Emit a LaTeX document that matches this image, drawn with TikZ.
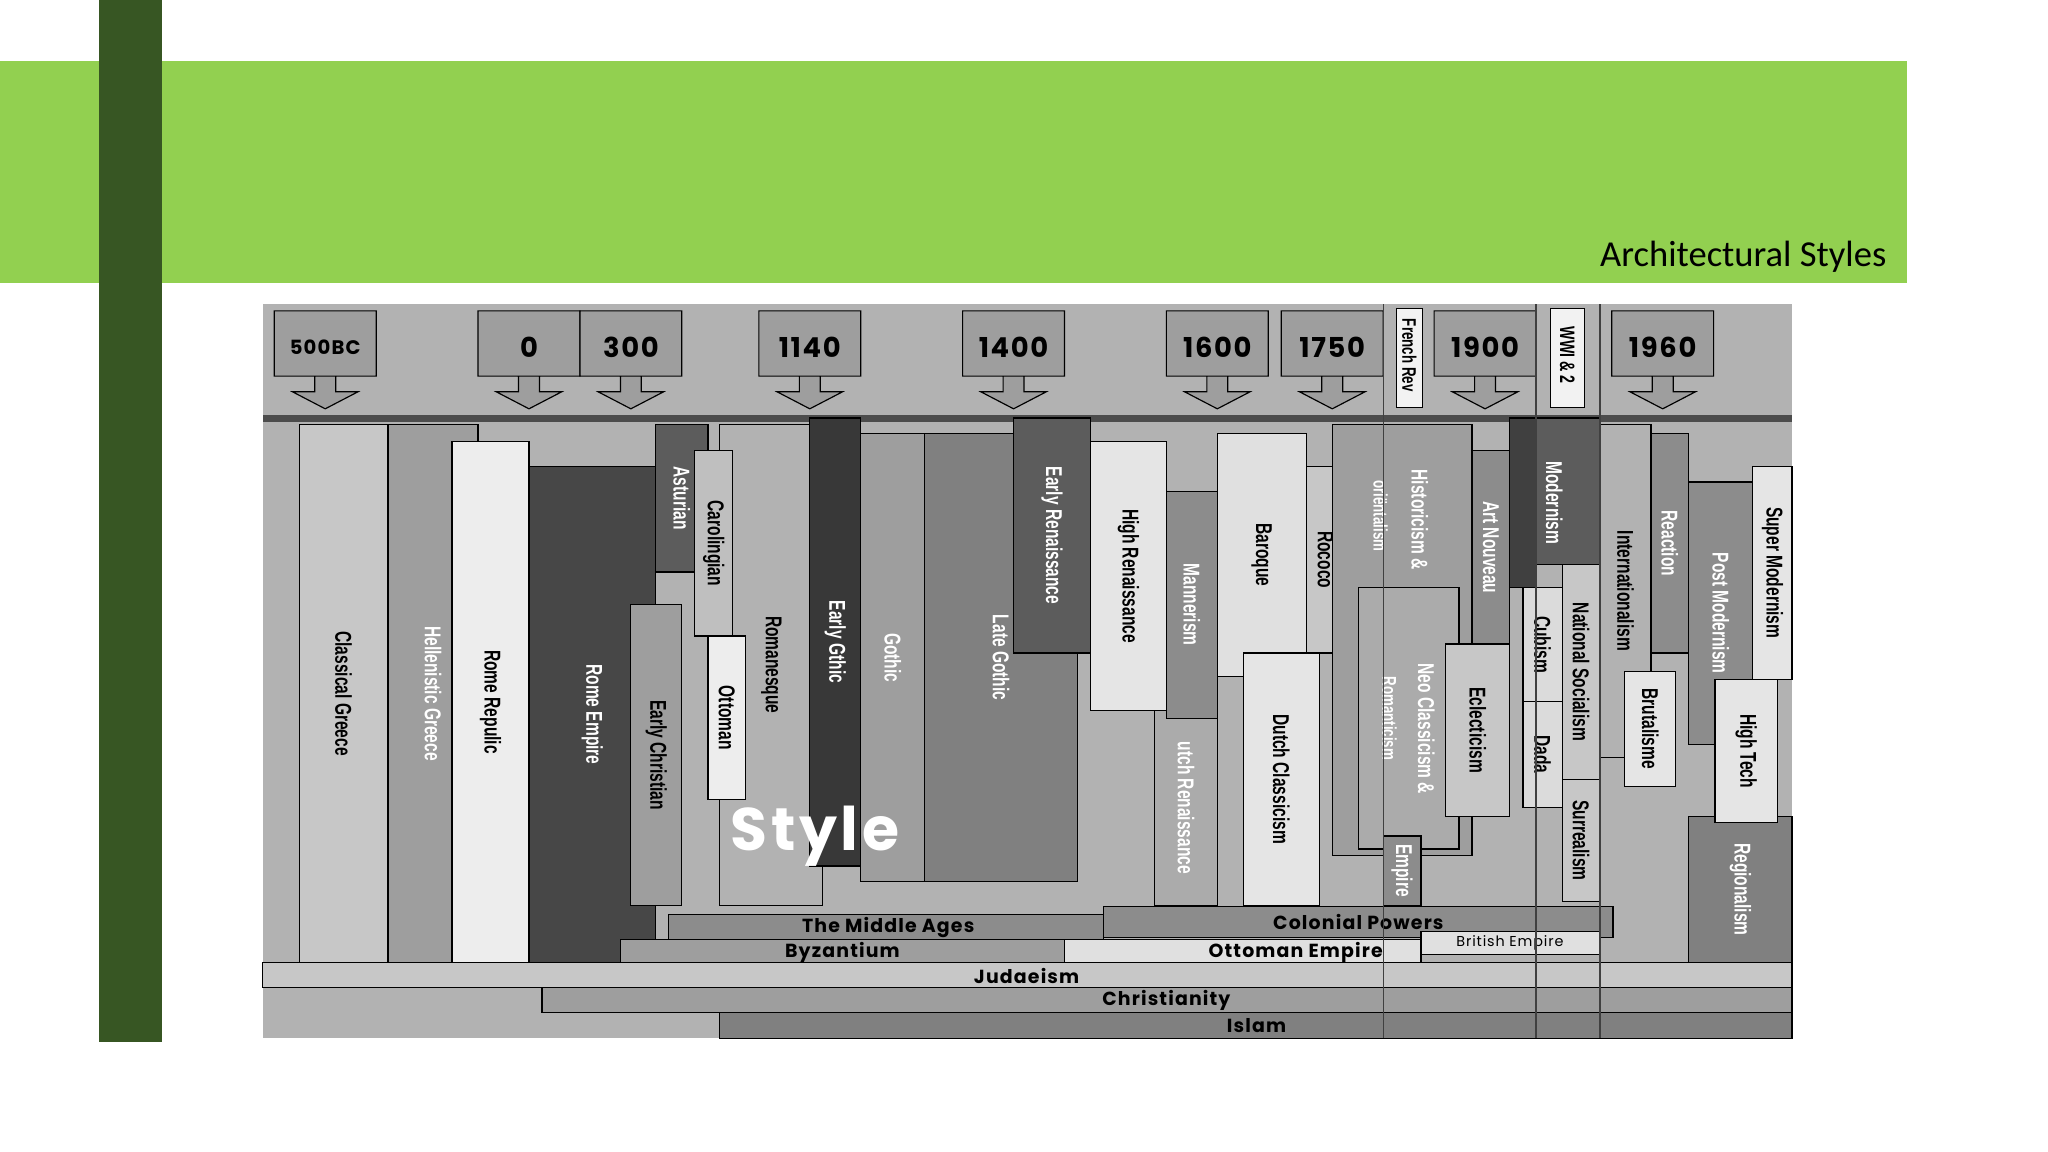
\documentclass[tikz,border=0pt]{standalone}
\usepackage{fontspec}
\setmainfont{Carlito}
\newfontfamily\cond[FakeStretch=0.68]{Liberation Sans}
\newfontfamily\geo[LetterSpace=6]{Poppins}
\definecolor{lgreen}{RGB}{146,208,80}
\definecolor{dgreen}{RGB}{55,86,35}
\begin{document}
\begin{tikzpicture}[x=1pt,y=-1pt,line width=0.9pt,
  lab/.style={rotate=-90,font=\cond\bfseries\fontsize{17.5}{17.5}\selectfont,inner sep=0pt},
  era/.style={font=\geo\bfseries\fontsize{14.5}{14.5}\selectfont,inner sep=0pt},
  date/.style={font=\geo\bfseries\fontsize{21}{21}\selectfont,inner sep=0pt}]
\useasboundingbox (0,0) rectangle (1568,882);
\fill[white] (0,0) rectangle (1568,882);
\fill[lgreen] (0,47) rectangle (1460,217);
\fill[dgreen] (76,0) rectangle (124,798);
\node[anchor=base east,font=\fontsize{28}{28}\selectfont] (title) at (1448,204) {Architectural Styles};
% chart background
\fill[black!30] (201,233) rectangle (1372,795);
\newcommand\sbar[7]{\draw[fill=black!#5] (#1,#2) rectangle (#3,#4);
  \node[lab,text=#7] at ({(#1+#3)/2},{(#2+#4)/2}) {#6};}
\newcommand\plain[5]{\draw[fill=black!#5] (#1,#2) rectangle (#3,#4);}
\newcommand\datebox[3]{\draw[fill=black!38] (#1,238) rectangle (#2,288)
  ({(#1+#2)/2-8},288) -- ({(#1+#2)/2-8},300) -- ({(#1+#2)/2-25},300) -- ({(#1+#2)/2},313)
  -- ({(#1+#2)/2+25},300) -- ({(#1+#2)/2+8},300) -- ({(#1+#2)/2+8},288);
  \node[date] at ({(#1+#2)/2},266) {#3};}
\datebox{210}{288}{\fontsize{15}{15}\selectfont 500BC}
\datebox{366}{444}{0}
\datebox{444}{522}{300}
\datebox{581}{659}{1140}
\datebox{737}{815}{1400}
\datebox{893}{971}{1600}
\datebox{981}{1059}{1750}
\datebox{1098}{1176}{1900}
\datebox{1234}{1312}{1960}
\draw[fill=black!5] (1069,236) rectangle (1089,312);
\node[lab,font=\cond\bfseries\fontsize{15}{15}\selectfont] (frev) at (1079,272) {French Rev};
\draw[fill=black!5] (1187,236) rectangle (1213,312);
\node[lab,font=\cond\bfseries\fontsize{16}{16}\selectfont] (ww) at (1200,272) {WWI \& 2};
\fill[black!70] (201,318) rectangle (1372,323);
% bars
\sbar{229}{325}{297}{737}{22}{Classical Greece}{black}
\sbar{297}{325}{366}{737}{38}{Hellenistic Greece}{white}
\sbar{346}{338}{405}{737}{7}{Rome Repulic}{black}
\sbar{405}{357}{502}{737}{72}{Rome Empire}{white}
\sbar{551}{325}{630}{693}{30}{Romanesque}{black}
\sbar{502}{325}{542}{438}{64}{Asturian}{white}
\sbar{483}{463}{522}{693}{38}{Early Christian}{black}
\sbar{542}{487}{571}{612}{7}{Ottoman}{black}
\sbar{532}{345}{561}{487}{25}{Carolingian}{black}
\sbar{620}{320}{659}{663}{78}{Early Gthic}{white}
\sbar{659}{332}{708}{675}{38}{Gothic}{white}
\sbar{708}{332}{825}{675}{50}{Late Gothic}{white}
\sbar{776}{320}{835}{500}{64}{Early Renaissance}{white}
\node[font=\geo\bfseries\fontsize{46}{46}\selectfont,text=white] (style) at (624,640) {Style};
\sbar{835}{338}{893}{544}{10}{High Renaissance}{black}
\sbar{884}{544}{932}{693}{33}{utch Renaissance}{white}
\sbar{893}{376}{932}{550}{45}{Mannerism}{white}
\sbar{932}{332}{1000}{518}{12}{Baroque}{black}
\sbar{1000}{357}{1030}{500}{22}{Rococo}{black}
\sbar{952}{500}{1010}{693}{10}{Dutch Classicism}{black}
\plain{1020}{325}{1127}{655}{38}
\node[lab,text=white] (hist) at (1087,398) {Historicism \&};
\node[lab,text=white,font=\cond\bfseries\fontsize{15}{15}\selectfont] (ori) at (1057,395) {oriëntalism};
\plain{1040}{450}{1117}{650}{33}
\node[lab,text=white] (neo) at (1092,558) {Neo Classicism \&};
\node[lab,text=white,font=\cond\bfseries\fontsize{15}{15}\selectfont] (rom) at (1064,550) {Romanticism};
\sbar{1059}{640}{1088}{693}{45}{Empire}{white}
\sbar{1127}{345}{1156}{493}{45}{Art Nouveau}{white}
\sbar{1107}{493}{1156}{625}{22}{Eclecticism}{black}
\plain{1156}{320}{1176}{450}{75}
\draw[fill=black!64] (1176,320) rectangle (1225,432) (1176,432) -- (1176,450);
\node[lab,text=white] (mod) at (1190,385) {Modernism};
\sbar{1166}{450}{1196}{537}{14}{Cubism}{black}
\sbar{1166}{537}{1196}{618}{14}{Dada}{black}
\sbar{1196}{432}{1225}{597}{22}{National Socialism}{black}
\sbar{1196}{597}{1225}{690}{22}{Surrealism}{black}
\sbar{1225}{325}{1264}{580}{30}{Internationalism}{black}
\sbar{1264}{332}{1293}{500}{45}{Reaction}{white}
\sbar{1244}{514}{1283}{602}{10}{Brutalisme}{black}
\sbar{1293}{369}{1342}{570}{45}{Post Modernism}{white}
\sbar{1342}{357}{1372}{520}{10}{Super Modernism}{black}
\sbar{1293}{625}{1372}{737}{50}{Regionalism}{white}
\sbar{1313}{520}{1361}{630}{10}{High Tech}{black}
% eras
\draw[fill=black!45] (512,700) rectangle (845,719); \node[era] (mid) at (680,710) {The Middle Ages};
\draw[fill=black!45] (845,694) rectangle (1235,718); \node[era] (col) at (1040,706) {Colonial Powers};
\draw[fill=black!38] (475,719) rectangle (815,737); \node[era] (byz) at (645,729) {Byzantium};
\draw[fill=black!12] (815,719) rectangle (1088,737); \node[era] (ott) at (992,729) {Ottoman Empire};
\draw[fill=black!12] (1088,713) rectangle (1225,731);
\node[font=\geo\fontsize{11}{11}\selectfont,inner sep=0pt] (brit) at (1156,722) {British Empire};
\draw[fill=black!22] (201,737) rectangle (1372,756); \node[era] (jud) at (786,747) {Judaeism};
\draw[fill=black!38] (415,756) rectangle (1372,775); \node[era] (chr) at (893,766) {Christianity};
\draw[fill=black!50] (551,775) rectangle (1372,795); \node[era] (isl) at (962,785) {Islam};
% vertical lines
\foreach \x in {1059,1176,1225} \draw[black!75] (\x,233) -- (\x,795);
\end{tikzpicture}
\end{document}
